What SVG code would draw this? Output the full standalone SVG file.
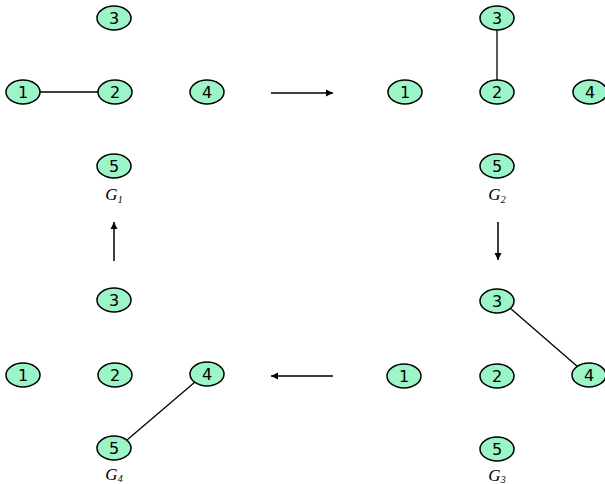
<svg xmlns="http://www.w3.org/2000/svg" width="605" height="484" viewBox="0 0 605 484">
<style>
.n ellipse{fill:#9bf5c6;stroke:#000;stroke-width:1.5}
.n text{font-family:"DejaVu Sans",sans-serif;font-size:16px;text-anchor:middle;fill:#000}
.e line{stroke:#000;stroke-width:1.3}
.a line{stroke:#000;stroke-width:1.5}
.lbl{font-family:"Liberation Serif",serif;font-style:italic;font-size:17px;text-anchor:middle}
.lbl tspan{font-size:10px}
</style>
<defs>
<marker id="ah" markerWidth="8" markerHeight="8" refX="7" refY="4" orient="auto" markerUnits="userSpaceOnUse">
<path d="M0,0.5 L7,4 L0,7.5 Z" fill="#000"/>
</marker>
</defs>
<rect width="605" height="484" fill="#fff"/>
<g id="connectors">
<g class="e">
<line x1="39" y1="92" x2="99" y2="92"/>
<line x1="497" y1="29" x2="497" y2="81"/>
<line x1="510" y1="308" x2="578" y2="367"/>
<line x1="127" y1="440" x2="195" y2="382"/>
</g>
<g class="a">
<line x1="271" y1="93" x2="333" y2="93" marker-end="url(#ah)"/>
<line x1="498" y1="222" x2="498" y2="260" marker-end="url(#ah)"/>
<line x1="333" y1="376" x2="271" y2="376" marker-end="url(#ah)"/>
<line x1="114" y1="261" x2="114" y2="222" marker-end="url(#ah)"/>
</g>
</g>
<g id="g1">
<g id="g1n3" class="n"><ellipse cx="114" cy="18" rx="17" ry="12"/><text x="114" y="24">3</text></g>
<g id="g1n1" class="n"><ellipse cx="23" cy="92" rx="17" ry="12"/><text x="23" y="98">1</text></g>
<g id="g1n2" class="n"><ellipse cx="115" cy="92" rx="17" ry="12"/><text x="115" y="98">2</text></g>
<g id="g1n4" class="n"><ellipse cx="207" cy="92" rx="17" ry="12"/><text x="207" y="98">4</text></g>
<g id="g1n5" class="n"><ellipse cx="114" cy="166" rx="17" ry="12"/><text x="114" y="172">5</text></g>
<text class="lbl" x="114" y="200">G<tspan dy="3">1</tspan></text>
</g>
<g id="g2">
<g id="g2n3" class="n"><ellipse cx="497" cy="18" rx="17" ry="12"/><text x="497" y="24">3</text></g>
<g id="g2n1" class="n"><ellipse cx="405" cy="92" rx="17" ry="12"/><text x="405" y="98">1</text></g>
<g id="g2n2" class="n"><ellipse cx="497" cy="92" rx="17" ry="12"/><text x="497" y="98">2</text></g>
<g id="g2n4" class="n"><ellipse cx="590" cy="92" rx="17" ry="12"/><text x="590" y="98">4</text></g>
<g id="g2n5" class="n"><ellipse cx="497" cy="166" rx="17" ry="12"/><text x="497" y="172">5</text></g>
<text class="lbl" x="497" y="200">G<tspan dy="3">2</tspan></text>
</g>
<g id="g3">
<g id="g3n3" class="n"><ellipse cx="497" cy="301" rx="17" ry="12"/><text x="497" y="307">3</text></g>
<g id="g3n1" class="n"><ellipse cx="404" cy="376" rx="17" ry="12"/><text x="404" y="382">1</text></g>
<g id="g3n2" class="n"><ellipse cx="497" cy="376" rx="17" ry="12"/><text x="497" y="382">2</text></g>
<g id="g3n4" class="n"><ellipse cx="589" cy="375" rx="17" ry="12"/><text x="589" y="381">4</text></g>
<g id="g3n5" class="n"><ellipse cx="497" cy="449" rx="17" ry="12"/><text x="497" y="455">5</text></g>
<text class="lbl" x="497" y="481">G<tspan dy="2">3</tspan></text>
</g>
<g id="g4">
<g id="g4n3" class="n"><ellipse cx="114" cy="300" rx="17" ry="12"/><text x="114" y="306">3</text></g>
<g id="g4n1" class="n"><ellipse cx="23" cy="375" rx="17" ry="12"/><text x="23" y="381">1</text></g>
<g id="g4n2" class="n"><ellipse cx="115" cy="375" rx="17" ry="12"/><text x="115" y="381">2</text></g>
<g id="g4n4" class="n"><ellipse cx="207" cy="374" rx="17" ry="12"/><text x="207" y="380">4</text></g>
<g id="g4n5" class="n"><ellipse cx="114" cy="448" rx="17" ry="12"/><text x="114" y="454">5</text></g>
<text class="lbl" x="114" y="480">G<tspan dy="2">4</tspan></text>
</g>
</svg>
